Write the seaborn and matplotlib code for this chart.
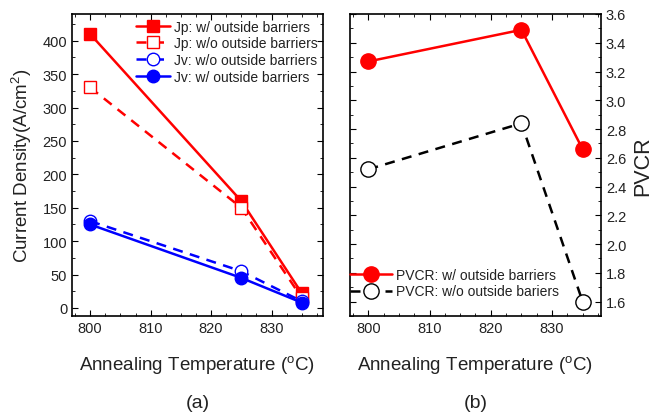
import numpy as np
import pandas as pd
import matplotlib
matplotlib.use('Agg')
import matplotlib.pyplot as plt
import seaborn as sns
from matplotlib.ticker import MultipleLocator

temps = [800, 825, 835]
jp_with = [410, 160, 22]
jp_without = [330, 150, 15]
jv_without = [130, 55, 10]
jv_with = [125, 45, 8]
pvcr_with = [3.27, 3.49, 2.66]
pvcr_without = [2.52, 2.84, 1.60]

sns.set_style('ticks')
plt.rcParams['font.family'] = ['Liberation Sans', 'DejaVu Sans']
plt.rcParams['mathtext.fontset'] = 'custom'
plt.rcParams['mathtext.rm'] = 'Liberation Sans'
plt.rcParams['mathtext.it'] = 'Liberation Sans:italic'
plt.rcParams['axes.edgecolor'] = 'black'
plt.rcParams['axes.linewidth'] = 1.2
plt.rcParams['xtick.color'] = 'black'
plt.rcParams['ytick.color'] = 'black'
plt.rcParams['xtick.labelcolor'] = '#222222'
plt.rcParams['ytick.labelcolor'] = '#222222'
plt.rcParams['text.color'] = '#222222'
plt.rcParams['axes.labelcolor'] = '#222222'

fig = plt.figure(figsize=(6.63, 4.14), dpi=100)
ax1 = fig.add_axes([72/663, 1-317/414, 251/663, 302/414])
ax2 = fig.add_axes([350/663, 1-317/414, 251/663, 302/414])

red = '#ff0000'
blue = '#0000ff'

series = [
    (jp_with, red, '-', 's', True, 'Jp: w/ outside barriers'),
    (jp_without, red, '--', 's', False, 'Jp: w/o outside barriers'),
    (jv_without, blue, '--', 'o', False, 'Jv: w/o outside barriers'),
    (jv_with, blue, '-', 'o', True, 'Jv: w/ outside barriers'),
]
for y, c, ls, m, f, lab in series:
    df = pd.DataFrame({'T': temps, 'v': y})
    kw = dict(color=c, marker=m, markersize=9, linewidth=1.8,
              markerfacecolor=c if f else 'white', markeredgecolor=c,
              markeredgewidth=1.0, label=lab)
    if ls == '--':
        kw['dashes'] = (4, 3)
    sns.lineplot(data=df, x='T', y='v', ax=ax1, **kw)

ax1.set_xlim(797, 838.5)
ax1.set_ylim(-12, 440)
ax1.yaxis.set_major_locator(MultipleLocator(50))
ax1.yaxis.set_minor_locator(MultipleLocator(25))
ax1.xaxis.set_major_locator(MultipleLocator(10))
ax1.xaxis.set_minor_locator(MultipleLocator(2.5))
ax1.set_xlabel('Annealing Temperature ($^{\\rm o}$C)', fontsize=13.5, labelpad=13)
ax1.set_ylabel('Current Density(A/cm$^2$)', fontsize=13.5, labelpad=6)
ax1.tick_params(which='both', direction='in', top=True, right=True, labelsize=10.5)
ax1.tick_params(which='major', length=4)
ax1.tick_params(which='minor', length=2)
ax1.legend(loc='upper right', frameon=False, fontsize=10, handlelength=2.4,
           handletextpad=0.3, labelspacing=0.2, borderaxespad=0.0,
           bbox_to_anchor=(1.0, 1.0))
ax1.text(0.5, -0.285, '(a)', transform=ax1.transAxes, ha='center', va='center', fontsize=14)

for y, c, ls, f, lab in [(pvcr_with, red, '-', True, 'PVCR: w/ outside barriers'),
                         (pvcr_without, 'black', '--', False, 'PVCR: w/o outside bariers')]:
    df = pd.DataFrame({'T': temps, 'v': y})
    kw = dict(color=c, marker='o', markersize=11, linewidth=1.8,
              markerfacecolor=c if f else 'white', markeredgecolor=c,
              markeredgewidth=1.0, label=lab)
    if ls == '--':
        kw['dashes'] = (4, 3)
    sns.lineplot(data=df, x='T', y='v', ax=ax2, **kw)

ax2.set_xlim(797, 838)
ax2.set_ylim(1.5, 3.6)
ax2.yaxis.set_major_locator(MultipleLocator(0.2))
ax2.yaxis.set_minor_locator(MultipleLocator(0.1))
ax2.yaxis.set_major_formatter(matplotlib.ticker.FormatStrFormatter('%.1f'))
ax2.xaxis.set_major_locator(MultipleLocator(10))
ax2.xaxis.set_minor_locator(MultipleLocator(2.5))
ax2.yaxis.tick_right()
ax2.yaxis.set_label_position('right')
ax2.set_xlabel('Annealing Temperature ($^{\\rm o}$C)', fontsize=13.5, labelpad=13)
ax2.set_ylabel('PVCR', fontsize=15.5, labelpad=4)
ax2.tick_params(which='both', direction='in', top=True, left=True, right=True, labelsize=10.5)
ax2.tick_params(which='major', length=4)
ax2.tick_params(which='minor', length=2)
ax2.legend(loc='lower left', frameon=False, fontsize=10, handlelength=3.0,
           handletextpad=0.3, labelspacing=0.2, borderaxespad=0.0,
           bbox_to_anchor=(-0.022, 0.04))
ax2.text(0.5, -0.285, '(b)', transform=ax2.transAxes, ha='center', va='center', fontsize=14)

fig.savefig('out.png', dpi=100)
